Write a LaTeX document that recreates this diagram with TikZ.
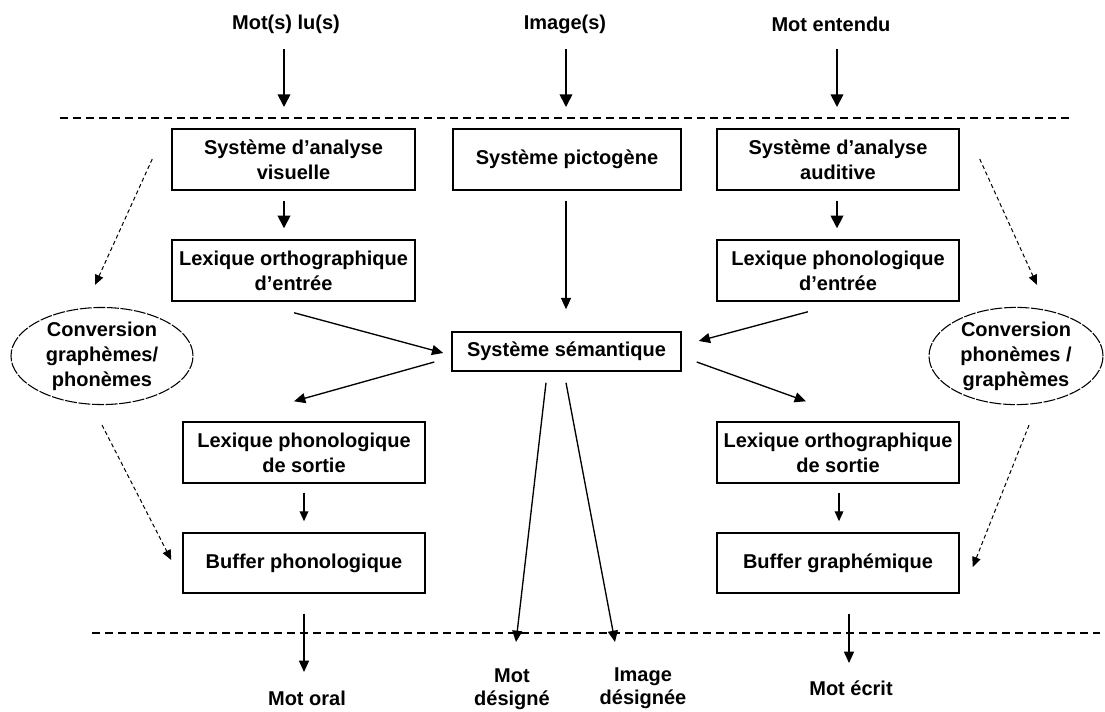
\documentclass[tikz,border=0pt]{standalone}
\usepackage{fontspec}
\setmainfont{Liberation Sans}
\usetikzlibrary{arrows.meta,calc,shapes.geometric}
\tikzset{
  every node/.style={font=\fontsize{15}{18.75}\selectfont\bfseries, inner sep=0pt, align=center},
  box/.style={draw, line width=1.1pt, minimum width=182pt, minimum height=45.75pt},
  oval/.style={draw, ellipse, line width=0.8pt, dash pattern=on 9pt off 1.2pt, minimum width=136pt, minimum height=69pt},
  lbl/.style={font=\fontsize{15}{17.25}\selectfont\bfseries},
  bigarr/.style={line width=1.3pt, -{Triangle[length=9.5pt,width=9.5pt]}},
  arr/.style={line width=1pt, -{Triangle[length=8.5pt,width=7.5pt]}},
  smallarr/.style={line width=1pt, -{Triangle[length=7.5pt,width=6.5pt]}},
  dotarr/.style={line width=0.75pt, dash pattern=on 3pt off 2.2pt, -{Triangle[length=7.5pt,width=6.5pt]}},
  sep/.style={line width=1.1pt, dash pattern=on 6pt off 3.75pt},
}
\begin{document}
\begin{tikzpicture}[x=0.75pt,y=-0.75pt]
\useasboundingbox (0,0) rectangle (1105,711);

% top inputs
\node (t1) at (286,24) {Mot(s) lu(s)};
\node (t2) at (565,24) {Image(s)};
\node (t3) at (831,24) {Mot entendu};

% separators
\draw[sep] (60,118) -- (1071,118);
\draw[sep] (92,633) -- (1100,633);

% boxes
\node[box, minimum width=182.25pt] (sav) at (293.5,159.5) {Système d’analyse\\visuelle};
\node[box, minimum width=171pt] (pic) at (567,159.5) {Système pictogène};
\node[box, minimum width=181.5pt] (saa) at (838,159.5) {Système d’analyse\\auditive};
\node[box, minimum width=182.25pt] (loe) at (293.5,270.5) {Lexique orthographique\\d’entrée};
\node[box, minimum width=181.5pt] (lpe) at (838,270.5) {Lexique phonologique\\d’entrée};
\node[box, minimum width=171.75pt, minimum height=29.25pt] (sem) at (566.5,351.5) {Système sémantique};
\node[box, minimum width=181.5pt] (lps) at (304,452.5) {Lexique phonologique\\de sortie};
\node[box, minimum width=181.5pt, minimum height=45pt] (bph) at (304,563) {Buffer phonologique};
\node[box, minimum width=181.5pt] (los) at (838,452.5) {Lexique orthographique\\de sortie};
\node[box, minimum width=181.5pt, minimum height=45pt] (bgr) at (838,563) {Buffer graphémique};

% ellipses
\node[oval, minimum width=136.5pt] (cgp) at (102,356) {Conversion\\graphèmes/\\phonèmes};
\node[oval, minimum width=130.5pt] (cpg) at (1016,356) {Conversion\\phonèmes /\\graphèmes};

% outputs
\node (mo) at (307,698) {Mot oral};
\node[lbl] (md) at (512,689) {Mot\\désigné};
\node[lbl] (id) at (643,688.5) {Image\\désignée};
\node (me) at (851,688) {Mot écrit};

% input arrows
\draw[bigarr] ($(t1)+(-2,25)$) -- ($(t1)+(-2,83)$);
\draw[bigarr] ($(t2)+(1,25)$) -- ($(t2)+(1,83)$);
\draw[bigarr] ($(t3)+(6,25)$) -- ($(t3)+(6,83)$);

% vertical arrows
\draw[bigarr] ($(sav.south)+(-9.5,10)$) -- ($(loe.north)+(-9.5,-11)$);
\draw[bigarr] ($(saa.south)+(-1,10)$) -- ($(lpe.north)+(-1,-11)$);
\draw[arr] ($(pic.south)+(-1,10)$) -- ($(sem.north)+(-0.5,-22)$);

% to / from semantic system
\draw[arr] ($(loe.south)+(0.5,11)$) -- ($(sem.west)+(-8,1.5)$);
\draw[arr] ($(lpe.south)+(-30,10)$) -- ($(sem.east)+(17,-10.5)$);
\draw[arr] ($(sem.west)+(-17,10.5)$) -- ($(lps.north)+(-10,-20)$);
\draw[arr] ($(sem.east)+(15,10.5)$) -- ($(los.north)+(-32,-20)$);
\draw[arr] ($(sem.south)+(-20.5,11)$) -- ($(md)+(4,-47)$);
\draw[arr] ($(sem.south)+(-0.5,11)$) -- ($(id)+(-28,-46.5)$);

% output chains
\draw[smallarr] ($(lps.south)+(0,9)$) -- ($(bph.north)+(0,-11)$);
\draw[smallarr] ($(los.south)+(1,9)$) -- ($(bgr.north)+(1,-11)$);
\draw[arr] ($(bph.south)+(0,20)$) -- ($(mo)+(-3,-26)$);
\draw[arr] ($(bgr.south)+(11,20)$) -- ($(me)+(-2,-25)$);

% sublexical routes (dashed)
\draw[dotarr] ($(sav.west)+(-19,-0.5)$) -- ($(cgp.north)+(-7,-22)$);
\draw[dotarr] ($(saa.east)+(20,-0.5)$) -- ($(cpg.north)+(21,-22)$);
\draw[dotarr] ($(cgp.south)+(0,20)$) -- ($(bph.west)+(-11,-3)$);
\draw[dotarr] ($(cpg.south)+(13,20)$) -- ($(bgr.east)+(13,4)$);
\end{tikzpicture}
\end{document}
